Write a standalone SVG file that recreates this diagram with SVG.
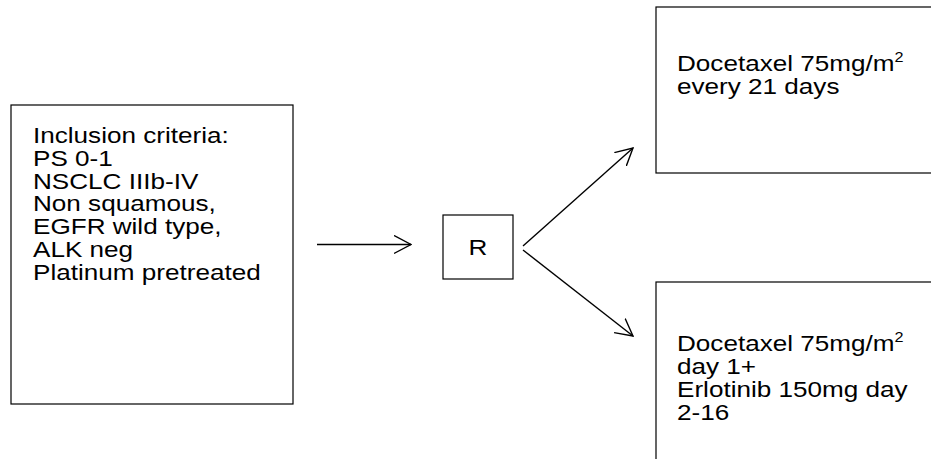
<svg xmlns="http://www.w3.org/2000/svg" width="931" height="459" viewBox="0 0 931 459">
<defs>
<style>
.box{fill:#fff;stroke:#000;stroke-width:1.2}
.t{font-family:"Liberation Sans",Arial,sans-serif;font-size:22.5px;fill:#000}
.sup{font-size:14px}
.c{fill:none;stroke:#000;stroke-width:1.4}
</style>
<marker id="ah" markerUnits="userSpaceOnUse" viewBox="0 0 18 20" refX="17" refY="10" markerWidth="18" markerHeight="20" orient="auto">
<path d="M0,1 L17,10 L0,19" fill="none" stroke="#000" stroke-width="1.4"/>
</marker>
</defs>
<rect width="931" height="459" fill="#fff"/>
<g id="inclusion">
<rect class="box" x="11" y="105" width="282" height="299"/>
<text class="t" transform="translate(33,0) scale(1.16,1)" x="0" y="143">
<tspan x="0">Inclusion criteria:</tspan>
<tspan x="0" dy="22.8">PS 0-1</tspan>
<tspan x="0" dy="22.8">NSCLC IIIb-IV</tspan>
<tspan x="0" dy="22.8">Non squamous,</tspan>
<tspan x="0" dy="22.8">EGFR wild type,</tspan>
<tspan x="0" dy="22.8">ALK neg</tspan>
<tspan x="0" dy="22.8">Platinum pretreated</tspan>
</text>
</g>
<g id="randomize">
<rect class="box" x="443" y="215" width="70" height="64"/>
<text class="t" transform="translate(478,0) scale(1.16,1)" x="0" y="255" text-anchor="middle">R</text>
</g>
<g id="arm1">
<rect class="box" x="656" y="7" width="290" height="166"/>
<text class="t" transform="translate(677,0) scale(1.16,1)" x="0" y="71">
<tspan x="0">Docetaxel 75mg/m</tspan><tspan class="sup" dy="-9">2</tspan>
<tspan x="0" y="94">every 21 days</tspan>
</text>
</g>
<g id="arm2">
<rect class="box" x="656" y="282" width="290" height="200"/>
<text class="t" transform="translate(677,0) scale(1.16,1)" x="0" y="351">
<tspan x="0">Docetaxel 75mg/m</tspan><tspan class="sup" dy="-9">2</tspan>
<tspan x="0" y="374">day 1+</tspan>
<tspan x="0" y="397">Erlotinib 150mg day</tspan>
<tspan x="0" y="420">2-16</tspan>
</text>
</g>
<g id="connectors">
<line class="c" x1="317" y1="244.5" x2="411" y2="244.5" marker-end="url(#ah)"/>
<line class="c" x1="523" y1="246" x2="633" y2="148" marker-end="url(#ah)"/>
<line class="c" x1="523" y1="250" x2="633" y2="336" marker-end="url(#ah)"/>
</g>
</svg>
